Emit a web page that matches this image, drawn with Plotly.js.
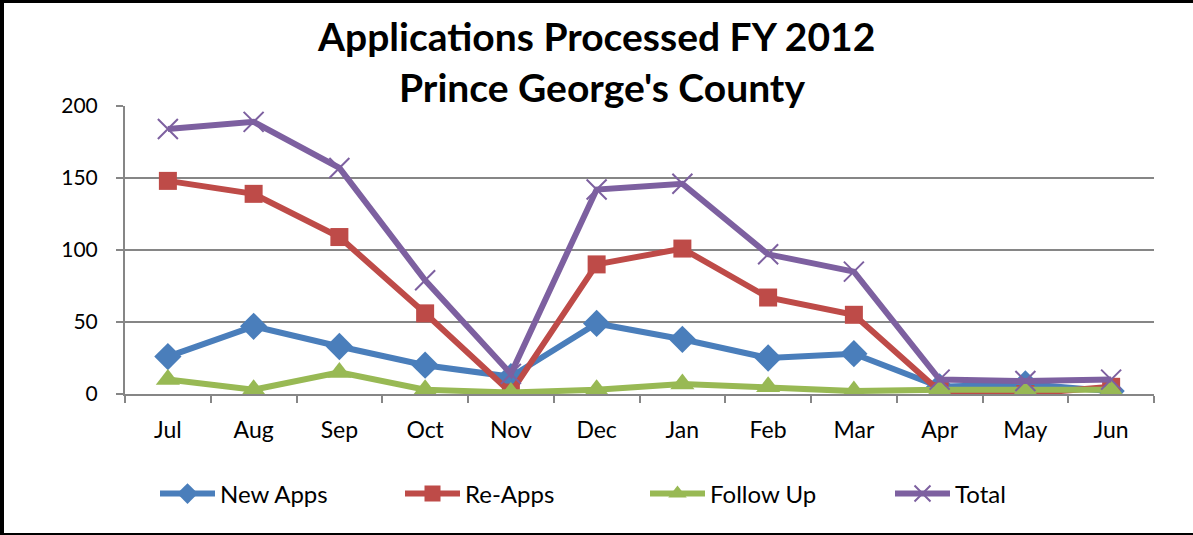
<!DOCTYPE html>
<html>
<head>
<meta charset="utf-8">
<script src="https://cdn.plot.ly/plotly-3.0.1.min.js"></script>
<style>
  html, body { margin: 0; padding: 0; background: #fff; }
  #wrap { position: relative; width: 1193px; height: 535px; overflow: hidden; }
  #chart { position: absolute; left: 0; top: 0; width: 1193px; height: 535px; }
  .bd { position: absolute; background: #000; }
</style>
</head>
<body>
<div id="wrap">
  <div id="chart"></div>
  <div class="bd" style="left:0;top:0;width:1193px;height:3px;"></div>
  <div class="bd" style="left:0;top:0;width:4px;height:535px;"></div>
  <div class="bd" style="left:0;top:533px;width:1193px;height:2px;"></div>
</div>
<script>
const months = ["Jul","Aug","Sep","Oct","Nov","Dec","Jan","Feb","Mar","Apr","May","Jun"];
const newApps  = [26, 47, 33, 20, 12, 49, 38, 25, 28, 5, 7, 2];
const reApps   = [148, 139, 109, 56, 1, 90, 101, 67, 55, 2, 0, 5];
const followUp = [10, 3, 15, 3, 1, 3, 7, 5, 2, 3, 3, 3];
const total    = [184, 189, 157, 79, 14, 142, 146, 97, 85, 10, 9, 10];
const seriesNames = ["New Apps", "Re-Apps", "Follow Up", "Total"];
const titleLine1 = "Applications Processed FY 2012";
const titleLine2 = "Prince George's County";
const yTicks = [0, 50, 100, 150, 200];

const FONT = "Lato, 'Liberation Sans', sans-serif";
const colors = ["#4A7EBB", "#BE4B48", "#98B954", "#7D60A0"];

const traces = [
  {x: months, y: newApps, name: seriesNames[0], type: "scatter", mode: "lines+markers",
   line: {color: colors[0], width: 6},
   marker: {symbol: "diamond", size: 21, color: colors[0]}},
  {x: months, y: reApps, name: seriesNames[1], type: "scatter", mode: "lines+markers",
   line: {color: colors[1], width: 6},
   marker: {symbol: "square", size: 18, color: colors[1]}},
  {x: months, y: followUp, name: seriesNames[2], type: "scatter", mode: "lines+markers",
   line: {color: colors[2], width: 6},
   marker: {symbol: "triangle-up", size: 21, color: colors[2]}},
  {x: months, y: total, name: seriesNames[3], type: "scatter", mode: "lines+markers",
   line: {color: colors[3], width: 6},
   marker: {symbol: "x-thin-open", size: 20, color: colors[3], line: {color: colors[3], width: 2}}}
];

const layout = {
  width: 1193, height: 535,
  margin: {l: 125, r: 39, t: 106, b: 141, pad: 0, autoexpand: false},
  paper_bgcolor: "rgba(0,0,0,0)",
  plot_bgcolor: "rgba(0,0,0,0)",
  font: {family: FONT, color: "#000", size: 21},
  showlegend: true,
  xaxis: {
    type: "category", range: [-0.5, 11.5], tickson: "boundaries",
    ticks: "outside", ticklen: 7, tickcolor: "#868686", tickwidth: 2,
    showline: true, linecolor: "#868686", linewidth: 2,
    showgrid: false, zeroline: false,
    tickfont: {family: FONT, size: 23, color: "#000"},
    ticklabelstandoff: 14, fixedrange: true
  },
  yaxis: {
    range: [0, 200], tickvals: yTicks, ticktext: yTicks.map(String),
    ticks: "outside", ticklen: 7, tickcolor: "#868686", tickwidth: 2,
    showline: true, linecolor: "#868686", linewidth: 2,
    showgrid: true, gridcolor: "#868686", gridwidth: 2,
    zeroline: false,
    tickfont: {family: FONT, size: 21, color: "#000"},
    ticklabelstandoff: 14, fixedrange: true
  },
  legend: {
    orientation: "h", x: (155 - 125) / 1029, xanchor: "left", y: -0.347, yanchor: "middle",
    font: {family: FONT, size: 24, color: "#000"},
    entrywidth: 175, entrywidthmode: "pixels",
    itemwidth: 55, bgcolor: "rgba(0,0,0,0)", traceorder: "normal"
  },
  annotations: [
    {text: "<b>" + titleLine1 + "</b>", xref: "paper", yref: "paper",
     x: (596 - 125) / 1029, y: 1.0 + (106 - 36) / 288, xanchor: "center", yanchor: "middle",
     showarrow: false, font: {family: FONT, size: 39, color: "#000"}},
    {text: "<b>" + titleLine2 + "</b>", xref: "paper", yref: "paper",
     x: (602 - 125) / 1029, y: 1.0 + (106 - 87) / 288, xanchor: "center", yanchor: "middle",
     showarrow: false, font: {family: FONT, size: 39, color: "#000"}}
  ]
};

Plotly.newPlot("chart", traces, layout, {displayModeBar: false, staticPlot: true});
</script>
</body>
</html>
